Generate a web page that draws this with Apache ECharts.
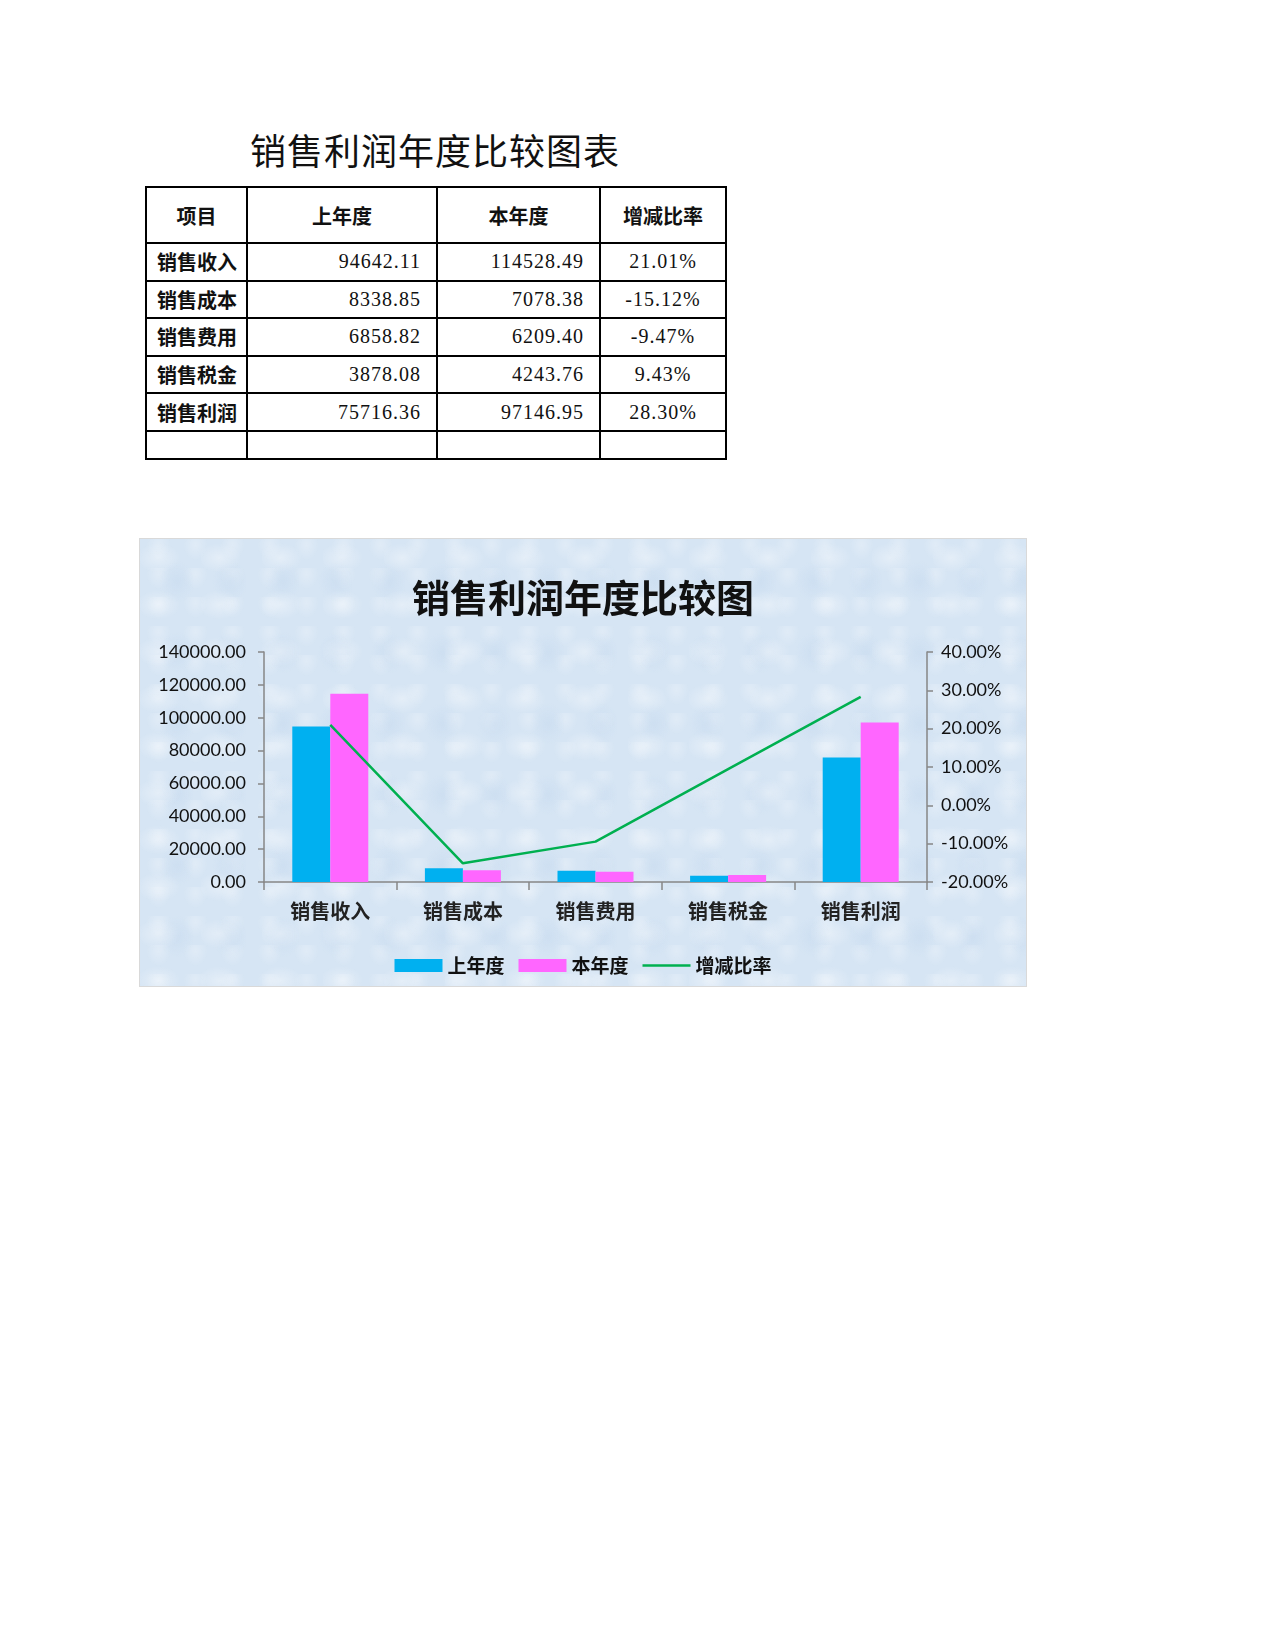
<!DOCTYPE html>
<html>
<head>
<meta charset="utf-8">
<title>销售利润年度比较图表</title>
<script src="https://cdn.jsdelivr.net/npm/echarts@6/dist/echarts.min.js"></script>
<style>
  html, body { margin: 0; padding: 0; background: #fff; }
  body { width: 1275px; height: 1650px; position: relative; }
  #title {
    position: absolute; left: 145px; top: 128px; width: 580px;
    text-align: center; font-family: "Noto Sans CJK SC"; font-size: 36px;
    line-height: 42px; color: #111; letter-spacing: 1px;
  }
  #tbl {
    position: absolute; left: 145px; top: 186px;
    border-collapse: collapse; table-layout: fixed;
  }
  #tbl td {
    border: 2px solid #000; padding: 0; font-size: 20px; color: #111;
    font-family: "Liberation Serif", serif; letter-spacing: 1px;
  }
  #tbl td.hd { font-family: "Noto Sans CJK SC"; font-weight: bold; text-align: center; letter-spacing: 0; }
  #tbl td.nm { font-family: "Noto Sans CJK SC"; font-weight: bold; padding-left: 10px; letter-spacing: 0; }
  #tbl td.num { text-align: right; padding-right: 15px; }
  #tbl td.pct { text-align: center; }
  #chart {
    position: absolute; left: 139px; top: 538px; width: 888px; height: 449px;
    box-sizing: border-box; border: 1px solid #d9d9d9;
    background-color: #d6e5f4;
    background-image:
      radial-gradient(ellipse at 30% 40%, rgba(255,255,255,0.35) 0, rgba(255,255,255,0) 22px),
      radial-gradient(ellipse at 70% 60%, rgba(190,212,236,0.35) 0, rgba(190,212,236,0) 18px),
      radial-gradient(ellipse at 50% 20%, rgba(255,255,255,0.25) 0, rgba(255,255,255,0) 12px);
    background-size: 61px 47px, 53px 71px, 37px 29px;
  }
</style>
</head>
<body>
<div id="title">销售利润年度比较图表</div>
<table id="tbl"></table>
<div id="chart"></div>
<script>
// 表格和图表共用的数据
var headers = ['项目', '上年度', '本年度', '增减比率'];
var categories = ['销售收入', '销售成本', '销售费用', '销售税金', '销售利润'];
var lastYear = [94642.11, 8338.85, 6858.82, 3878.08, 75716.36];
var thisYear = [114528.49, 7078.38, 6209.40, 4243.76, 97146.95];
var changeRate = [21.01, -15.12, -9.47, 9.43, 28.30];

var colWidths = [101, 190, 163, 126];

// 上方的表格
var tbl = document.getElementById('tbl');
var html = '<colgroup>';
colWidths.forEach(function (w) { html += '<col style="width:' + w + 'px">'; });
html += '</colgroup><tr style="height:56px">';
headers.forEach(function (h) { html += '<td class="hd">' + h + '</td>'; });
html += '</tr>';
for (var i = 0; i < categories.length; i++) {
  html += '<tr style="height:37.6px">' +
    '<td class="nm">' + categories[i] + '</td>' +
    '<td class="num">' + lastYear[i].toFixed(2) + '</td>' +
    '<td class="num">' + thisYear[i].toFixed(2) + '</td>' +
    '<td class="pct">' + changeRate[i].toFixed(2) + '%</td></tr>';
}
html += '<tr style="height:28px"><td></td><td></td><td></td><td></td></tr>';
tbl.innerHTML = html;

// 图表
var chart = echarts.init(document.getElementById('chart'), null, { renderer: 'canvas' });

var axisGray = '#868686';
var labelFont = 'Lato, "Noto Sans", sans-serif';
var cjkFont = '"Noto Sans CJK SC", sans-serif';

var option = {
  backgroundColor: 'transparent',
  animation: false,
  title: {
    text: '销售利润年度比较图',
    left: 'center',
    top: 35,
    textStyle: { fontFamily: cjkFont, fontSize: 38, fontWeight: 'bold', color: '#111' }
  },
  legend: {
    bottom: 6,
    left: 'center',
    itemWidth: 48,
    itemHeight: 13,
    itemGap: 14,
    textStyle: { fontFamily: cjkFont, fontSize: 19, fontWeight: 'bold', color: '#111' },
    data: [
      { name: '上年度', icon: 'rect' },
      { name: '本年度', icon: 'rect' },
      { name: '增减比率', icon: 'path://M0,0L48,0L48,2.5L0,2.5Z' }
    ]
  },
  grid: { left: 124, right: 99, top: 113, bottom: 104 },
  xAxis: {
    type: 'category',
    data: categories,
    axisLine: { lineStyle: { color: axisGray, width: 1.5 } },
    axisTick: { show: true, length: 8, lineStyle: { color: axisGray, width: 1.5 } },
    axisLabel: { margin: 19, fontFamily: cjkFont, fontSize: 20, fontWeight: 'bold', color: '#222' }
  },
  yAxis: [{
    type: 'value',
    min: 0,
    max: 140000,
    interval: 20000,
    axisLine: { show: true, lineStyle: { color: axisGray, width: 1.5 } },
    axisTick: { show: true, length: 6, lineStyle: { color: axisGray, width: 1.5 } },
    splitLine: { show: false },
    axisLabel: {
      margin: 18, fontFamily: labelFont, fontSize: 18, color: '#111',
      formatter: function (v) { return v.toFixed(2); }
    }
  }, {
    type: 'value',
    min: -20,
    max: 40,
    interval: 10,
    axisLine: { show: true, lineStyle: { color: axisGray, width: 1.5 } },
    axisTick: { show: true, length: 6, lineStyle: { color: axisGray, width: 1.5 } },
    splitLine: { show: false },
    axisLabel: {
      margin: 14, fontFamily: labelFont, fontSize: 18, color: '#111',
      formatter: function (v) { return v.toFixed(2) + '%'; }
    }
  }],
  series: [{
    name: '上年度',
    type: 'bar',
    barWidth: 38,
    barGap: '0%',
    itemStyle: { color: '#00B0F0' },
    data: lastYear
  }, {
    name: '本年度',
    type: 'bar',
    barWidth: 38,
    itemStyle: { color: '#FF66FF' },
    data: thisYear
  }, {
    name: '增减比率',
    type: 'line',
    yAxisIndex: 1,
    symbol: 'none',
    lineStyle: { color: '#00B050', width: 2.5 },
    itemStyle: { color: '#00B050' },
    data: changeRate
  }]
};

chart.setOption(option);
</script>
</body>
</html>
